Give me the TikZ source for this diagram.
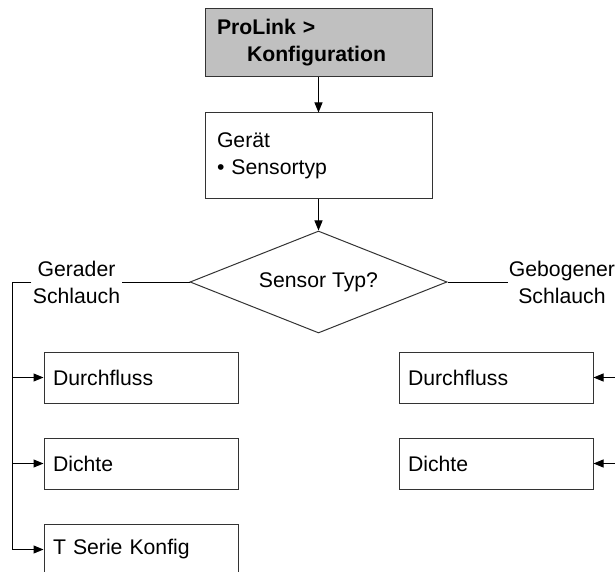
\documentclass[tikz,border=0pt]{standalone}
\usepackage{fontspec}
\setmainfont{Liberation Sans}
\usepackage{tikz}
\usetikzlibrary{arrows.meta, positioning, shapes.geometric}
\definecolor{menugray}{HTML}{C0C0C0}
\definecolor{edgegray}{HTML}{333333}
\tikzset{
    box/.style={rectangle, draw=edgegray, line width=0.5pt, fill=white, align=left, inner xsep=4.5pt, inner ysep=0pt, text width=88pt, minimum height=25.5pt, font=\fontsize{10.6pt}{13.5pt}\selectfont},
    widebox/.style={box, inner xsep=6pt, text width=101.5pt},
    menubox/.style={widebox, fill=menugray, font=\fontsize{10.6pt}{13.5pt}\selectfont\bfseries},
    decision/.style={diamond, draw=edgegray, line width=0.5pt, aspect=2.5, inner sep=0pt, minimum width=128.5pt, minimum height=51pt, font=\fontsize{10.6pt}{13.5pt}\selectfont},
    branchlabel/.style={fill=white, align=center, inner sep=0.5pt, font=\fontsize{10.6pt}{13.5pt}\selectfont},
    line/.style={draw=black, line width=0.5pt},
    arrow/.style={-{Triangle[length=5pt,width=4pt]}, line width=0.5pt, draw=black}
}
\begin{document}
\begin{tikzpicture}[x=0.5pt, y=-0.5pt, node distance=17pt]
    \path[use as bounding box, clip] (0,0) rectangle (615,572);
    % main chain
    \node[menubox, minimum height=34pt] (prolink) at (318.5,43) {ProLink >\\\hspace*{15pt}Konfiguration};
    \node[widebox, minimum height=43pt, below=17.5pt of prolink] (geraet) {Ger\"at\\\textbullet{} Sensortyp};
    \node[decision, below=15.5pt of geraet] (sensor) {Sensor Typ?};
    \draw[arrow] (prolink) -- (geraet);
    \draw[arrow] (geraet) -- (sensor);
    % branches
    \node[branchlabel, left=34pt of sensor.west] (gerader) {Gerader\\Schlauch};
    \node[branchlabel, right=30pt of sensor.east] (gebogener) {Gebogener\\Schlauch};
    \coordinate (railL) at (gerader.west -| 12,0);
    \coordinate (railR) at (gebogener.east -| 640,0);
    \node[box] (durchflussL) at (141,377.5) {Durchfluss};
    \node[box, below=of durchflussL] (dichteL) {Dichte};
    \node[box, below=of dichteL] (tserieL) {T Serie Konfig};
    \node[box] (durchflussR) at (496,377.5) {Durchfluss};
    \node[box, below=of durchflussR] (dichteR) {Dichte};
    \draw[line] (sensor.west) -- (gerader.east);
    \draw[line] (sensor.east) -- (gebogener.west);
    \draw[arrow] (gerader.west) -- (railL) |- (durchflussL.west);
    \draw[arrow] (railL) |- (dichteL.west);
    \draw[arrow] (railL) |- (tserieL.west);
    \draw[arrow] (gebogener.east) -- (railR) |- (durchflussR.east);
    \draw[arrow] (railR) |- (dichteR.east);
\end{tikzpicture}
\end{document}
